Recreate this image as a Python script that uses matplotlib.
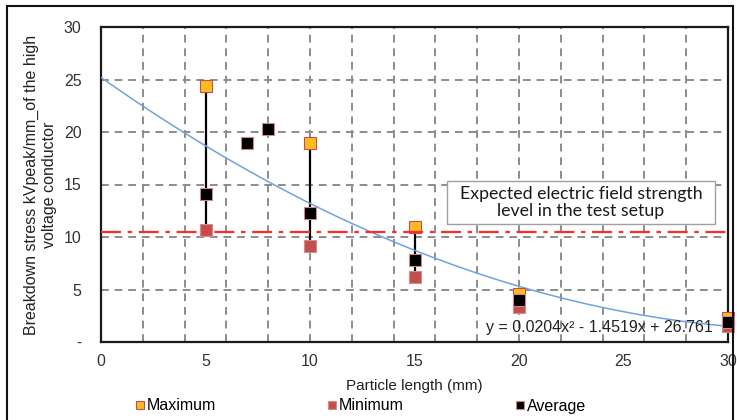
import numpy as np
import matplotlib
matplotlib.use("Agg")
import matplotlib.pyplot as plt
from matplotlib.patches import Rectangle

# ---- data ----
x_range = [5, 10, 15, 20, 30]
maximum = [24.4, 19.0, 11.0, 4.6, 2.3]
minimum = [10.7, 9.1, 6.2, 3.3, 1.5]
avg_x = [5, 7, 8, 10, 15, 20, 30]
average = [14.1, 19.0, 20.3, 12.3, 7.8, 4.0, 1.9]
# quadratic trend as drawn (coefficients)
trend_coef = [0.0205, -1.405, 25.2]
trend_label = "y = 0.0204x² - 1.4519x + 26.761"
expected_level = 10.5
x_ticks = [0, 5, 10, 15, 20, 25, 30]
y_ticks = [0, 5, 10, 15, 20, 25, 30]
y_ticklabels = ["-", "5", "10", "15", "20", "25", "30"]

plt.rcParams['font.family'] = ['Liberation Sans', 'DejaVu Sans']

fig = plt.figure(figsize=(7.37, 4.2), dpi=100)
ax = fig.add_axes([101/737, 78/420, 627/737, 315/420])

ax.set_xlim(0, 30)
ax.set_ylim(0, 30)

# grid
grid_kw = dict(color='#8c8c8c', lw=1.4, ls=(0, (4, 3)), zorder=0)
for gx in range(2, 30, 2):
    ax.axvline(gx, **grid_kw)
for gy in [5, 10, 15, 20, 25]:
    ax.axhline(gy, **grid_kw)

# high-low lines
ax.vlines(x_range, minimum, maximum, color='black', lw=1.6, zorder=2)

# trend
xs = np.linspace(0, 30, 300)
ax.plot(xs, np.polyval(trend_coef, xs), color='#6fa3dc', lw=1.1, zorder=3)

# markers
ms = 9
ax.plot(x_range, minimum, 's', ms=ms, mfc='#C0504D', mec='#d98a88', mew=0.8,
        ls='none', zorder=4, clip_on=False, label='Minimum')
ax.plot(x_range, maximum, 's', ms=ms, mfc='#FDBA22', mec='#C0504D', mew=0.8,
        ls='none', zorder=5, clip_on=False, label='Maximum')
ax.plot(avg_x, average, 's', ms=ms, mfc='black', mec='#c98a88', mew=0.8,
        ls='none', zorder=6, clip_on=False, label='Average')

# expected level line
ax.axhline(expected_level, color='#ff2a2a', lw=1.6, ls=(0, (9, 3, 2, 3)), zorder=7)

# text box (box drawn in pixel-derived axes fraction)
box_x0, box_x1 = (447 - 101) / 627, (715 - 101) / 627
box_y0, box_y1 = (342 - 224) / 315, (342 - 181) / 315
ax.add_patch(Rectangle((box_x0, box_y0), box_x1 - box_x0, box_y1 - box_y0,
                       transform=ax.transAxes, fc='white', ec='#a0a0a0',
                       lw=1.0, zorder=8))
ax.text((box_x0 + box_x1) / 2, (box_y0 + box_y1) / 2,
        "Expected electric field strength\nlevel in the test setup",
        transform=ax.transAxes,
        family=['Lato', 'DejaVu Sans'], fontsize=12.8, ha='center', va='center',
        linespacing=1.05, color='#1a1a1a', zorder=9)

# equation
ax.text(29.25, 1.35, trend_label, fontsize=11.5, ha='right', va='center',
        color='#222222', zorder=8)

ax.set_xticks(x_ticks)
ax.set_yticks(y_ticks)
ax.set_yticklabels(y_ticklabels)
ax.tick_params(length=0, labelsize=11.5, colors='#333333')
ax.tick_params(axis='y', pad=14)
ax.tick_params(axis='x', pad=9)
for s in ax.spines.values():
    s.set_color('#1a1a1a')
    s.set_linewidth(1.6)

ax.set_xlabel("Particle length (mm)", fontsize=11, color='#222222', labelpad=7)
ax.set_ylabel("Breakdown stress kVpeak/mm_of the high\nvoltage conductor",
              fontsize=11.5, color='#222222', labelpad=5, linespacing=1.2)

# legend
handles, labels = ax.get_legend_handles_labels()
order = [1, 0, 2]
leg = fig.legend([handles[i] for i in order], [labels[i] for i in order],
                 loc='center', bbox_to_anchor=(361/737, 14/420), ncol=3,
                 frameon=False, fontsize=11.5, handlelength=0.55,
                 handletextpad=0.15, columnspacing=7.0, markerscale=0.7)

# outer frame
fig.patches.append(Rectangle((7/737, -0.01), 726/737, 1.0 - 6/420 + 0.01,
                             transform=fig.transFigure, fill=False,
                             ec='#111111', lw=1.5))

fig.savefig("out.png", dpi=100)
